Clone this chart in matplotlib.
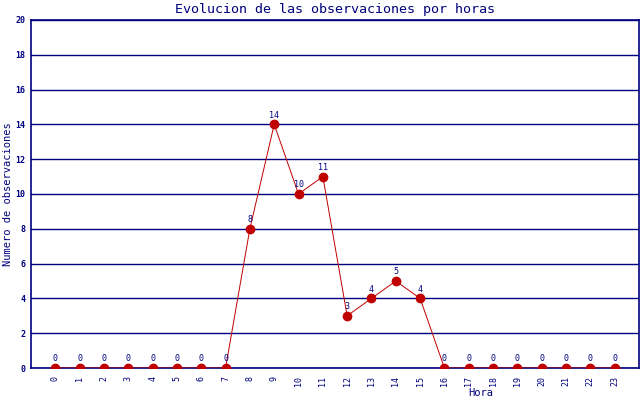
import matplotlib
matplotlib.use("Agg")
import matplotlib.pyplot as plt

hours = list(range(24))
counts = [0, 0, 0, 0, 0, 0, 0, 0, 8, 14, 10, 11, 3, 4, 5, 4, 0, 0, 0, 0, 0, 0, 0, 0]
yticks = [0, 2, 4, 6, 8, 10, 12, 14, 16, 18, 20]

navy = "#000080"
red = "#c00000"
mono = "DejaVu Sans Mono"

fig = plt.figure(figsize=(6.4, 4.0), dpi=100)
ax = fig.add_axes([31/640, 32/400, 608/640, 348/400])

ax.set_xlim(-1, 24)
ax.set_ylim(0, 20)
ax.set_yticks(yticks)
ax.set_xticks(hours)
ax.set_xticklabels([str(h) for h in hours], rotation=90, fontsize=6, color=navy, family=mono)
ax.set_yticklabels([str(v) for v in yticks], fontsize=6, color=navy, family=mono, fontweight="bold")
ax.tick_params(axis="both", length=0, pad=4)
ax.tick_params(axis="x", pad=6)

ax.yaxis.grid(True, color=navy, linewidth=1.0)
ax.set_axisbelow(True)
for side in ["left", "bottom", "right", "top"]:
    ax.spines[side].set_color(navy)
    ax.spines[side].set_linewidth(1.2)

ax.plot(hours, counts, color=red, linewidth=0.7, marker="o", markersize=6,
        markerfacecolor=red, markeredgecolor=red, zorder=3)
for h, c in zip(hours, counts):
    ax.annotate(str(c), (h, c), xytext=(0, 3.5), textcoords="offset points",
                ha="center", va="bottom", fontsize=6, color=navy, family=mono)

fig.text(335/640, 1 - 9/400, "Evolucion de las observaciones por horas", ha="center", va="center",
         fontsize=9.6, color=navy, family=mono)
fig.text(8/640, 1 - 194/400, "Numero de observaciones", rotation=90, ha="center", va="center",
         fontsize=7.5, color=navy, family=mono)
fig.text(481/640, 1 - 393/400, "Hora", ha="center", va="center",
         fontsize=7.5, color=navy, family=mono)

fig.savefig("out.png", dpi=100, facecolor="white")
